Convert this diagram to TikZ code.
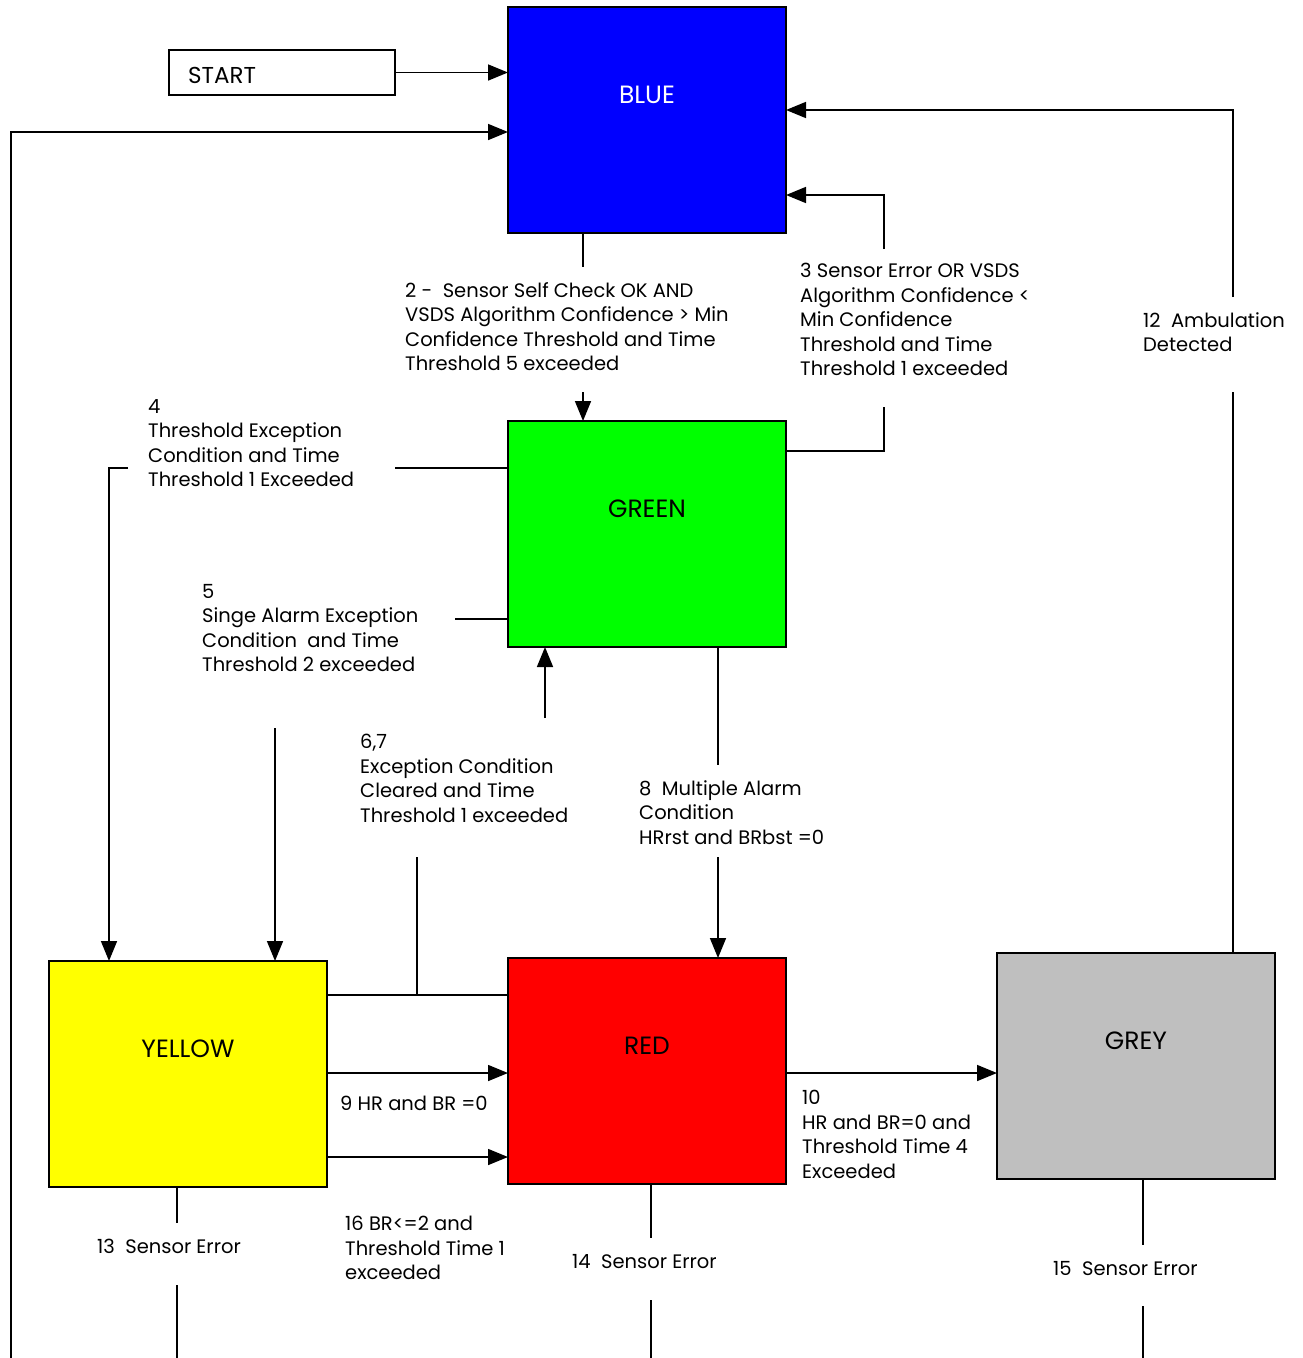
\documentclass[tikz,border=0pt]{standalone}
\usepackage{fontspec}
\setmainfont{Poppins}
\usetikzlibrary{arrows.meta,calc}
\definecolor{BlueClr}{rgb}{0,0,1}
\definecolor{GreenClr}{rgb}{0,1,0}
\definecolor{YellowClr}{rgb}{1,1,0}
\definecolor{RedClr}{rgb}{1,0,0}
\definecolor{GreyClr}{rgb}{0.75,0.75,0.75}

\begin{document}
\begin{tikzpicture}[x=1pt,y=-1pt,
  state/.style={draw,line width=1.8pt,anchor=north west,minimum width=278pt,minimum height=226pt,inner sep=0pt,outer sep=0pt},
  tag/.style={yshift=25pt,font=\fontsize{25}{28}\selectfont},
  cond/.style={anchor=north west,align=left,inner sep=0pt,font=\fontsize{19.5}{24.5}\selectfont},
  wire/.style={line width=1.6pt},
  arr/.style={wire,-{Triangle[length=20pt,width=16pt]}}]
\useasboundingbox (0,0) rectangle (1303,1358);

\node[draw,line width=1.4pt,anchor=north west,minimum width=226pt,minimum height=45pt,inner sep=0pt,outer sep=0pt] (start) at (169,50) {};
\node[anchor=west,inner sep=0pt,font=\fontsize{23}{26}\selectfont] (starttxt) at (188,75) {START};

\node[state,fill=BlueClr,label={[tag,text=white]center:BLUE}] (blue) at (508,7) {};
\node[state,fill=GreenClr,label={[tag]center:GREEN}] (green) at (508,421) {};
\node[state,fill=YellowClr,label={[tag]center:YELLOW}] (yellow) at (49,961) {};
\node[state,fill=RedClr,label={[tag]center:RED}] (red) at (508,958) {};
\node[state,fill=GreyClr,label={[tag]center:GREY}] (grey) at (997,953) {};

\node[cond] (lbl2) at (405,282) {2 -\ \ Sensor Self Check OK AND\\VSDS Algorithm Confidence > Min\\Confidence Threshold and Time\\Threshold 5 exceeded};
\node[cond] (lbl3) at (800,263) {3 Sensor Error OR VSDS\\Algorithm Confidence <\\Min Confidence\\Threshold and Time\\Threshold 1 exceeded};
\node[cond] (lbl12) at (1143,312) {12\ \ Ambulation\\Detected};
\node[cond] (lbl4) at (148,399) {4\\Threshold Exception\\Condition and Time\\Threshold 1 Exceeded};
\node[cond] (lbl5) at (202,584) {5\\Singe Alarm Exception\\Condition\ \ and Time\\Threshold 2 exceeded};
\node[cond] (lbl67) at (360,734) {6,7\\Exception Condition\\Cleared and Time\\Threshold 1 exceeded};
\node[cond] (lbl8) at (639,780) {8\ \ Multiple Alarm\\Condition\\HRrst and BRbst =0};
\node[cond] (lbl9) at (340,1096) {9 HR and BR =0};
\node[cond] (lbl10) at (802,1090) {10\\HR and BR=0 and\\Threshold Time 4\\Exceeded};
\node[cond] (lbl16) at (345,1216) {16 BR<=2 and\\Threshold Time 1\\exceeded};
\node[cond] (lbl13) at (97,1239) {13\ \ Sensor Error};
\node[cond] (lbl14) at (572,1254) {14\ \ Sensor Error};
\node[cond] (lbl15) at (1053,1261) {15\ \ Sensor Error};

\coordinate (loop) at (11,1358);
\coordinate (bot) at (0,1358);
\coordinate (c2a) at (583,267);
\coordinate (c2b) at (583,392);
\coordinate (c3a) at (884,249);
\coordinate (c3b) at (884,407);
\coordinate (c12a) at (1233,297);
\coordinate (c12b) at (1233,392);
\coordinate (c4a) at (395,468);
\coordinate (c4b) at (128,468);
\coordinate (c5a) at (455,619);
\coordinate (c5b) at (275,728);
\coordinate (c67a) at (417,857);
\coordinate (c67b) at (545,718);
\coordinate (c67j) at (417,995);
\coordinate (c8a) at (718,765);
\coordinate (c8b) at (718,857);
\coordinate (c13a) at (177,1223);
\coordinate (c13b) at (177,1285);
\coordinate (c14a) at (651,1238);
\coordinate (c14b) at (651,1300);
\coordinate (c15a) at (1143,1245);
\coordinate (c15b) at (1143,1306);

\draw[arr] (start.east) -- (start.east -| blue.west);
\draw[arr] (loop) |- ([yshift=-12pt]blue.west);
\draw[wire] (blue.south -| c2a) -- (c2a);
\draw[arr] (c2b) -- (c2b |- green.north);
\draw[wire] ([yshift=83pt]green.east) -| (c3b);
\draw[arr] (c3a) |- ([yshift=-75pt]blue.east);
\draw[wire] (grey.north -| c12b) -- (c12b);
\draw[arr] (c12a) |- ([yshift=10pt]blue.east);
\draw[wire] ([yshift=66pt]green.west) -- (c4a);
\draw[arr] (c4b) -| ([xshift=-79pt]yellow.north);
\draw[wire] ([yshift=-85pt]green.west) -- (c5a);
\draw[arr] (c5b) -- (c5b |- yellow.north);
\draw[wire] (yellow.east |- c67j) -- (red.west |- c67j);
\draw[wire] (c67j) -- (c67a);
\draw[arr] (c67b) -- (c67b |- green.south);
\draw[wire] (green.south -| c8a) -- (c8a);
\draw[arr] (c8b) -- (c8b |- red.north);
\draw[arr] ([yshift=-2pt]red.west -| yellow.east) -- ([yshift=-2pt]red.west);
\draw[arr] ([yshift=-86pt]red.west -| yellow.east) -- ([yshift=-86pt]red.west);
\draw[arr] ([yshift=-2pt]red.east) -- ([yshift=-2pt]red.east -| grey.west);
\draw[wire] (yellow.south -| c13a) -- (c13a);
\draw[wire] (c13b) -- (c13b |- bot);
\draw[wire] (red.south -| c14a) -- (c14a);
\draw[wire] (c14b) -- (c14b |- bot);
\draw[wire] (grey.south -| c15a) -- (c15a);
\draw[wire] (c15b) -- (c15b |- bot);
\end{tikzpicture}
\end{document}
